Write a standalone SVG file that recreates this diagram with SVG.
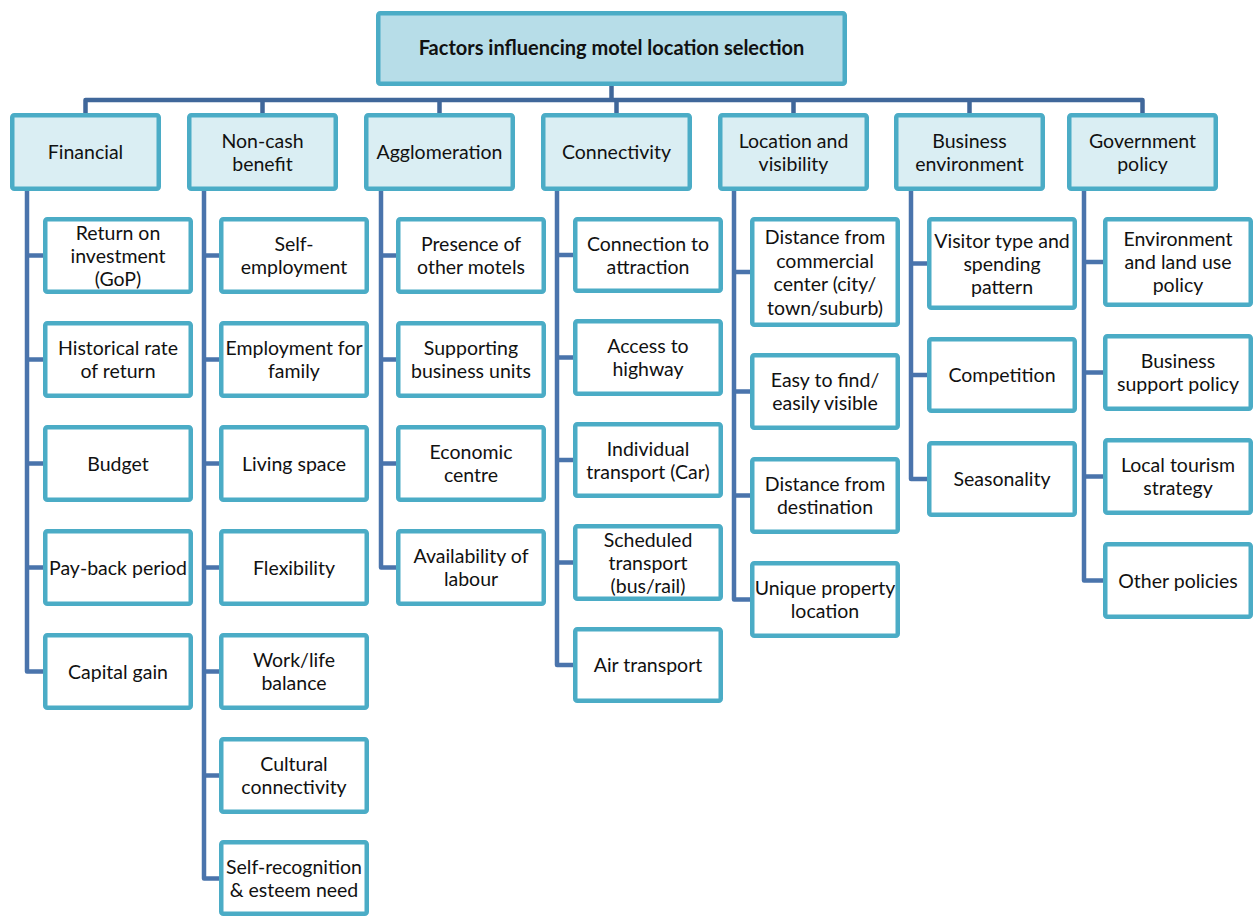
<svg xmlns="http://www.w3.org/2000/svg" width="1254" height="916" viewBox="0 0 1254 916">
  <style>
    .root { fill: #B7DDE8; stroke: #4BACC6; stroke-width: 4.5; }
    .cat  { fill: #DAEEF3; stroke: #4BACC6; stroke-width: 4.5; }
    .leaf { fill: #FFFFFF; stroke: #4BACC6; stroke-width: 4.5; }
    .bus  { fill: none; stroke: #40679A; stroke-width: 4.5; stroke-linejoin: round; }
    .conn { fill: none; stroke: #4A74AC; stroke-width: 4.5; stroke-linejoin: round; }
    text  { font-family: Lato, "Open Sans", "Liberation Sans", sans-serif; font-size: 19.5px; fill: #111111; text-anchor: middle; }
    .title { font-weight: bold; font-size: 20px; }
  </style>

  <rect width="1254" height="916" fill="#FFFFFF"/>

  <!-- connectors -->
  <g id="connectors">
    <!-- top bus -->
    <path class="bus" d="M611.5 86 V100"/>
    <path class="bus" d="M85.5 113 V100 H1142.5 V113"/>
    <path class="bus" d="M262.5 100 V113 M439.5 100 V113 M616.5 100 V113 M793.5 100 V113 M969.5 100 V113"/>
    <!-- Financial -->
    <path class="conn" d="M27 191 V671.5 H43 M27 255.5 H43 M27 359.5 H43 M27 463.5 H43 M27 567.5 H43"/>
    <!-- Non-cash benefit -->
    <path class="conn" d="M204 191 V878.5 H219 M204 255.5 H219 M204 359.5 H219 M204 463.5 H219 M204 567.5 H219 M204 671.5 H219 M204 775.5 H219"/>
    <!-- Agglomeration -->
    <path class="conn" d="M381 191 V567.5 H396 M381 255.5 H396 M381 359.5 H396 M381 463.5 H396"/>
    <!-- Connectivity -->
    <path class="conn" d="M557 191 V665 H573 M557 255 H573 M557 357.5 H573 M557 460 H573 M557 562.5 H573"/>
    <!-- Location and visibility -->
    <path class="conn" d="M734 191 V599.5 H750 M734 272 H750 M734 391.5 H750 M734 495.5 H750"/>
    <!-- Business environment -->
    <path class="conn" d="M911 191 V479 H927 M911 263.5 H927 M911 375 H927"/>
    <!-- Government policy -->
    <path class="conn" d="M1084 191 V580.5 H1103 M1084 262 H1103 M1084 372.5 H1103 M1084 476.5 H1103"/>
  </g>

  <!-- root -->
  <g id="root">
    <rect class="root" x="378.25" y="13.25" width="466.5" height="70.5" rx="2"/>
    <text class="title" x="611.5" y="55">Factors influencing motel location selection</text>
  </g>

  <!-- categories -->
  <g id="cat-financial">
    <rect class="cat" x="12.25" y="115.25" width="146.5" height="73.5" rx="2"/>
    <text x="85.5" y="159">Financial</text>
  </g>
  <g id="cat-noncash">
    <rect class="cat" x="189.25" y="115.25" width="146.5" height="73.5" rx="2"/>
    <text x="262.5" y="147.5">Non-cash</text>
    <text x="262.5" y="170.5">benefit</text>
  </g>
  <g id="cat-agglomeration">
    <rect class="cat" x="366.25" y="115.25" width="146.5" height="73.5" rx="2"/>
    <text x="439.5" y="159">Agglomeration</text>
  </g>
  <g id="cat-connectivity">
    <rect class="cat" x="543.25" y="115.25" width="146.5" height="73.5" rx="2"/>
    <text x="616.5" y="159">Connectivity</text>
  </g>
  <g id="cat-location">
    <rect class="cat" x="720.25" y="115.25" width="146.5" height="73.5" rx="2"/>
    <text x="793.5" y="147.5">Location and</text>
    <text x="793.5" y="170.5">visibility</text>
  </g>
  <g id="cat-business">
    <rect class="cat" x="896.25" y="115.25" width="146.5" height="73.5" rx="2"/>
    <text x="969.5" y="147.5">Business</text>
    <text x="969.5" y="170.5">environment</text>
  </g>
  <g id="cat-government">
    <rect class="cat" x="1069.25" y="115.25" width="146.5" height="73.5" rx="2"/>
    <text x="1142.5" y="147.5">Government</text>
    <text x="1142.5" y="170.5">policy</text>
  </g>

  <!-- Financial items -->
  <g id="fin-roi">
    <rect class="leaf" x="45.25" y="219.25" width="145.5" height="72.5" rx="2"/>
    <text x="118" y="239.5">Return on</text>
    <text x="118" y="262.5">investment</text>
    <text x="118" y="285.5">(GoP)</text>
  </g>
  <g id="fin-historical">
    <rect class="leaf" x="45.25" y="323.25" width="145.5" height="72.5" rx="2"/>
    <text x="118" y="355">Historical rate</text>
    <text x="118" y="378">of return</text>
  </g>
  <g id="fin-budget">
    <rect class="leaf" x="45.25" y="427.25" width="145.5" height="72.5" rx="2"/>
    <text x="118" y="470.5">Budget</text>
  </g>
  <g id="fin-payback">
    <rect class="leaf" x="45.25" y="531.25" width="145.5" height="72.5" rx="2"/>
    <text x="118" y="574.5">Pay-back period</text>
  </g>
  <g id="fin-capital">
    <rect class="leaf" x="45.25" y="635.25" width="145.5" height="72.5" rx="2"/>
    <text x="118" y="678.5">Capital gain</text>
  </g>

  <!-- Non-cash benefit items -->
  <g id="nc-self-employment">
    <rect class="leaf" x="221.25" y="219.25" width="145.5" height="72.5" rx="2"/>
    <text x="294" y="251">Self-</text>
    <text x="294" y="274">employment</text>
  </g>
  <g id="nc-family">
    <rect class="leaf" x="221.25" y="323.25" width="145.5" height="72.5" rx="2"/>
    <text x="294" y="355">Employment for</text>
    <text x="294" y="378">family</text>
  </g>
  <g id="nc-living">
    <rect class="leaf" x="221.25" y="427.25" width="145.5" height="72.5" rx="2"/>
    <text x="294" y="470.5">Living space</text>
  </g>
  <g id="nc-flexibility">
    <rect class="leaf" x="221.25" y="531.25" width="145.5" height="72.5" rx="2"/>
    <text x="294" y="574.5">Flexibility</text>
  </g>
  <g id="nc-worklife">
    <rect class="leaf" x="221.25" y="635.25" width="145.5" height="72.5" rx="2"/>
    <text x="294" y="667">Work/life</text>
    <text x="294" y="690">balance</text>
  </g>
  <g id="nc-cultural">
    <rect class="leaf" x="221.25" y="739.25" width="145.5" height="72.5" rx="2"/>
    <text x="294" y="771">Cultural</text>
    <text x="294" y="794">connectivity</text>
  </g>
  <g id="nc-esteem">
    <rect class="leaf" x="221.25" y="842.25" width="145.5" height="71.5" rx="2"/>
    <text x="294" y="874">Self-recognition</text>
    <text x="294" y="897">&amp; esteem need</text>
  </g>

  <!-- Agglomeration items -->
  <g id="ag-motels">
    <rect class="leaf" x="398.25" y="219.25" width="145.5" height="72.5" rx="2"/>
    <text x="471" y="251">Presence of</text>
    <text x="471" y="274">other motels</text>
  </g>
  <g id="ag-support">
    <rect class="leaf" x="398.25" y="323.25" width="145.5" height="72.5" rx="2"/>
    <text x="471" y="355">Supporting</text>
    <text x="471" y="378">business units</text>
  </g>
  <g id="ag-economic">
    <rect class="leaf" x="398.25" y="427.25" width="145.5" height="72.5" rx="2"/>
    <text x="471" y="459">Economic</text>
    <text x="471" y="482">centre</text>
  </g>
  <g id="ag-labour">
    <rect class="leaf" x="398.25" y="531.25" width="145.5" height="72.5" rx="2"/>
    <text x="471" y="563">Availability of</text>
    <text x="471" y="586">labour</text>
  </g>

  <!-- Connectivity items -->
  <g id="co-attraction">
    <rect class="leaf" x="575.25" y="219.25" width="145.5" height="71.5" rx="2"/>
    <text x="648" y="250.5">Connection to</text>
    <text x="648" y="273.5">attraction</text>
  </g>
  <g id="co-highway">
    <rect class="leaf" x="575.25" y="321.25" width="145.5" height="72.5" rx="2"/>
    <text x="648" y="353">Access to</text>
    <text x="648" y="376">highway</text>
  </g>
  <g id="co-car">
    <rect class="leaf" x="575.25" y="424.25" width="145.5" height="71.5" rx="2"/>
    <text x="648" y="455.5">Individual</text>
    <text x="648" y="478.5">transport (Car)</text>
  </g>
  <g id="co-scheduled">
    <rect class="leaf" x="575.25" y="526.25" width="145.5" height="72.5" rx="2"/>
    <text x="648" y="546.5">Scheduled</text>
    <text x="648" y="569.5">transport</text>
    <text x="648" y="592.5">(bus/rail)</text>
  </g>
  <g id="co-air">
    <rect class="leaf" x="575.25" y="629.25" width="145.5" height="71.5" rx="2"/>
    <text x="648" y="672">Air transport</text>
  </g>

  <!-- Location and visibility items -->
  <g id="lo-commercial">
    <rect class="leaf" x="752.25" y="219.25" width="145.5" height="105.5" rx="2"/>
    <text x="825" y="244">Distance from</text>
    <text x="825" y="267.5">commercial</text>
    <text x="825" y="291">center (city/</text>
    <text x="825" y="314.5">town/suburb)</text>
  </g>
  <g id="lo-visible">
    <rect class="leaf" x="752.25" y="355.25" width="145.5" height="72.5" rx="2"/>
    <text x="825" y="387">Easy to find/</text>
    <text x="825" y="410">easily visible</text>
  </g>
  <g id="lo-destination">
    <rect class="leaf" x="752.25" y="459.25" width="145.5" height="72.5" rx="2"/>
    <text x="825" y="491">Distance from</text>
    <text x="825" y="514">destination</text>
  </g>
  <g id="lo-unique">
    <rect class="leaf" x="752.25" y="563.25" width="145.5" height="72.5" rx="2"/>
    <text x="825" y="595">Unique property</text>
    <text x="825" y="618">location</text>
  </g>

  <!-- Business environment items -->
  <g id="bu-visitor">
    <rect class="leaf" x="929.25" y="219.25" width="145.5" height="88.5" rx="2"/>
    <text x="1002" y="247.5">Visitor type and</text>
    <text x="1002" y="270.5">spending</text>
    <text x="1002" y="293.5">pattern</text>
  </g>
  <g id="bu-competition">
    <rect class="leaf" x="929.25" y="339.25" width="145.5" height="71.5" rx="2"/>
    <text x="1002" y="382">Competition</text>
  </g>
  <g id="bu-seasonality">
    <rect class="leaf" x="929.25" y="443.25" width="145.5" height="71.5" rx="2"/>
    <text x="1002" y="486">Seasonality</text>
  </g>

  <!-- Government policy items -->
  <g id="go-environment">
    <rect class="leaf" x="1105.25" y="219.25" width="145.5" height="85.5" rx="2"/>
    <text x="1178" y="246">Environment</text>
    <text x="1178" y="269">and land use</text>
    <text x="1178" y="292">policy</text>
  </g>
  <g id="go-support">
    <rect class="leaf" x="1105.25" y="336.25" width="145.5" height="72.5" rx="2"/>
    <text x="1178" y="368">Business</text>
    <text x="1178" y="391">support policy</text>
  </g>
  <g id="go-tourism">
    <rect class="leaf" x="1105.25" y="440.25" width="145.5" height="72.5" rx="2"/>
    <text x="1178" y="472">Local tourism</text>
    <text x="1178" y="495">strategy</text>
  </g>
  <g id="go-other">
    <rect class="leaf" x="1105.25" y="544.25" width="145.5" height="72.5" rx="2"/>
    <text x="1178" y="587.5">Other policies</text>
  </g>
</svg>
